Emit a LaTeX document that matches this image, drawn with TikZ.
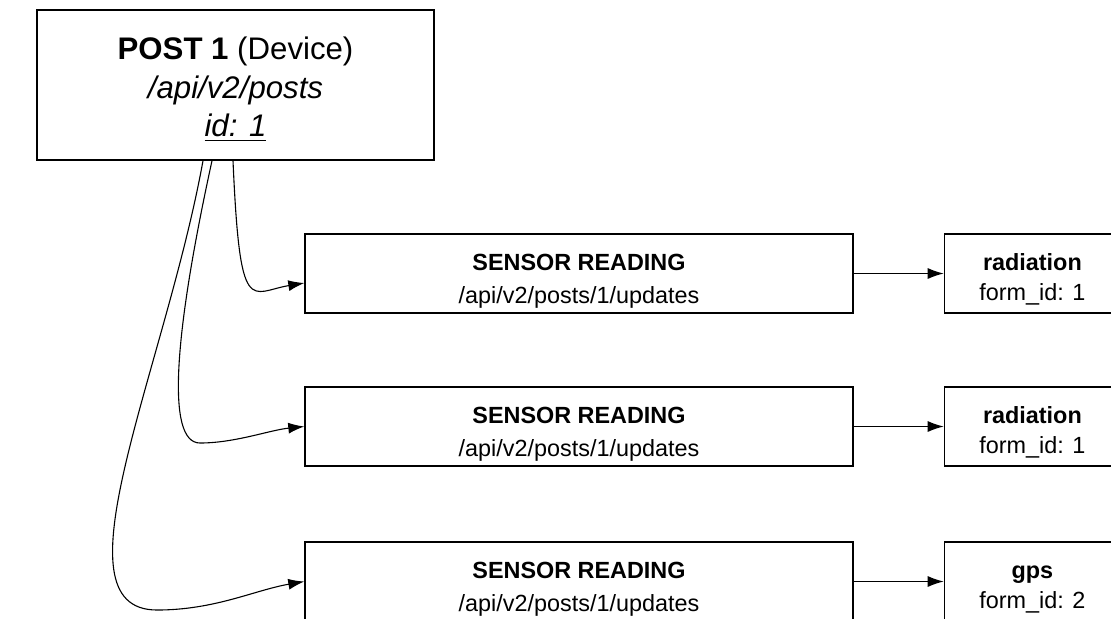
\documentclass[tikz,border=0pt]{standalone}
\usepackage{fontspec}
\setmainfont{Liberation Sans}
\usetikzlibrary{arrows.meta,positioning}

% invisible rule that sets the height of a first line
\newcommand{\lead}[1]{\rule{0pt}{#1}}

\begin{document}
\begin{tikzpicture}[x=0.5pt,y=-0.5pt,
    postbox/.style={draw,line width=0.7pt,minimum width=198.5pt,minimum height=75pt,
      align=center,font=\fontsize{15.6}{19.25}\selectfont},
    readbox/.style={draw,line width=0.7pt,minimum width=274pt,minimum height=39.5pt,
      inner ysep=1pt,align=center,font=\fontsize{11.7}{16.5}\selectfont},
    formbox/.style={draw,line width=0.7pt,minimum width=88pt,minimum height=39.5pt,
      inner ysep=1pt,align=center,font=\fontsize{11.7}{15}\selectfont},
    link/.style={line width=0.55pt,-{Latex[length=8pt,width=5.5pt]}}]
  \useasboundingbox (0,0) rectangle (1111,618);

  \node[postbox] (post) at (235.5,85)
    {\lead{15.5pt}\textbf{POST 1} (Device)\\ \textit{/api/v2/posts}\\ \textit{\underline{id: 1}}};

  \node[readbox] (s1) at (579,273.5) {\lead{15.5pt}\textbf{SENSOR READING}\\ /api/v2/posts/1/updates};
  \node[readbox] (s2) at (579,426.5) {\lead{15.5pt}\textbf{SENSOR READING}\\ /api/v2/posts/1/updates};
  \node[readbox] (s3) at (579,581.5) {\lead{15.5pt}\textbf{SENSOR READING}\\ /api/v2/posts/1/updates};

  \node[formbox,right=45pt of s1] (f1) {\lead{14pt}\textbf{radiation}\\ form\_id: 1};
  \node[formbox,right=45pt of s2] (f2) {\lead{14pt}\textbf{radiation}\\ form\_id: 1};
  \node[formbox,right=45pt of s3] (f3) {\lead{14pt}\textbf{gps}\\ form\_id: 2};

  % post -> readings
  \draw[link] ([xshift=-1.25pt]post.south) .. controls (240,320) and (250,292) .. ([yshift=-4.75pt]s1.west);
  \draw[link] ([xshift=-11.75pt]post.south) .. controls (175,330) and (165,443) .. (200,443)
    .. controls (235,443) and (270,430) .. (s2.west);
  \draw[link] ([xshift=-16.25pt]post.south) .. controls (165,370) and (50,610) .. (157,610)
    .. controls (215,610) and (255,590) .. (s3.west);

  % readings -> forms
  \draw[link] (s1) -- (f1);
  \draw[link] (s2) -- (f2);
  \draw[link] (s3) -- (f3);
\end{tikzpicture}
\end{document}
